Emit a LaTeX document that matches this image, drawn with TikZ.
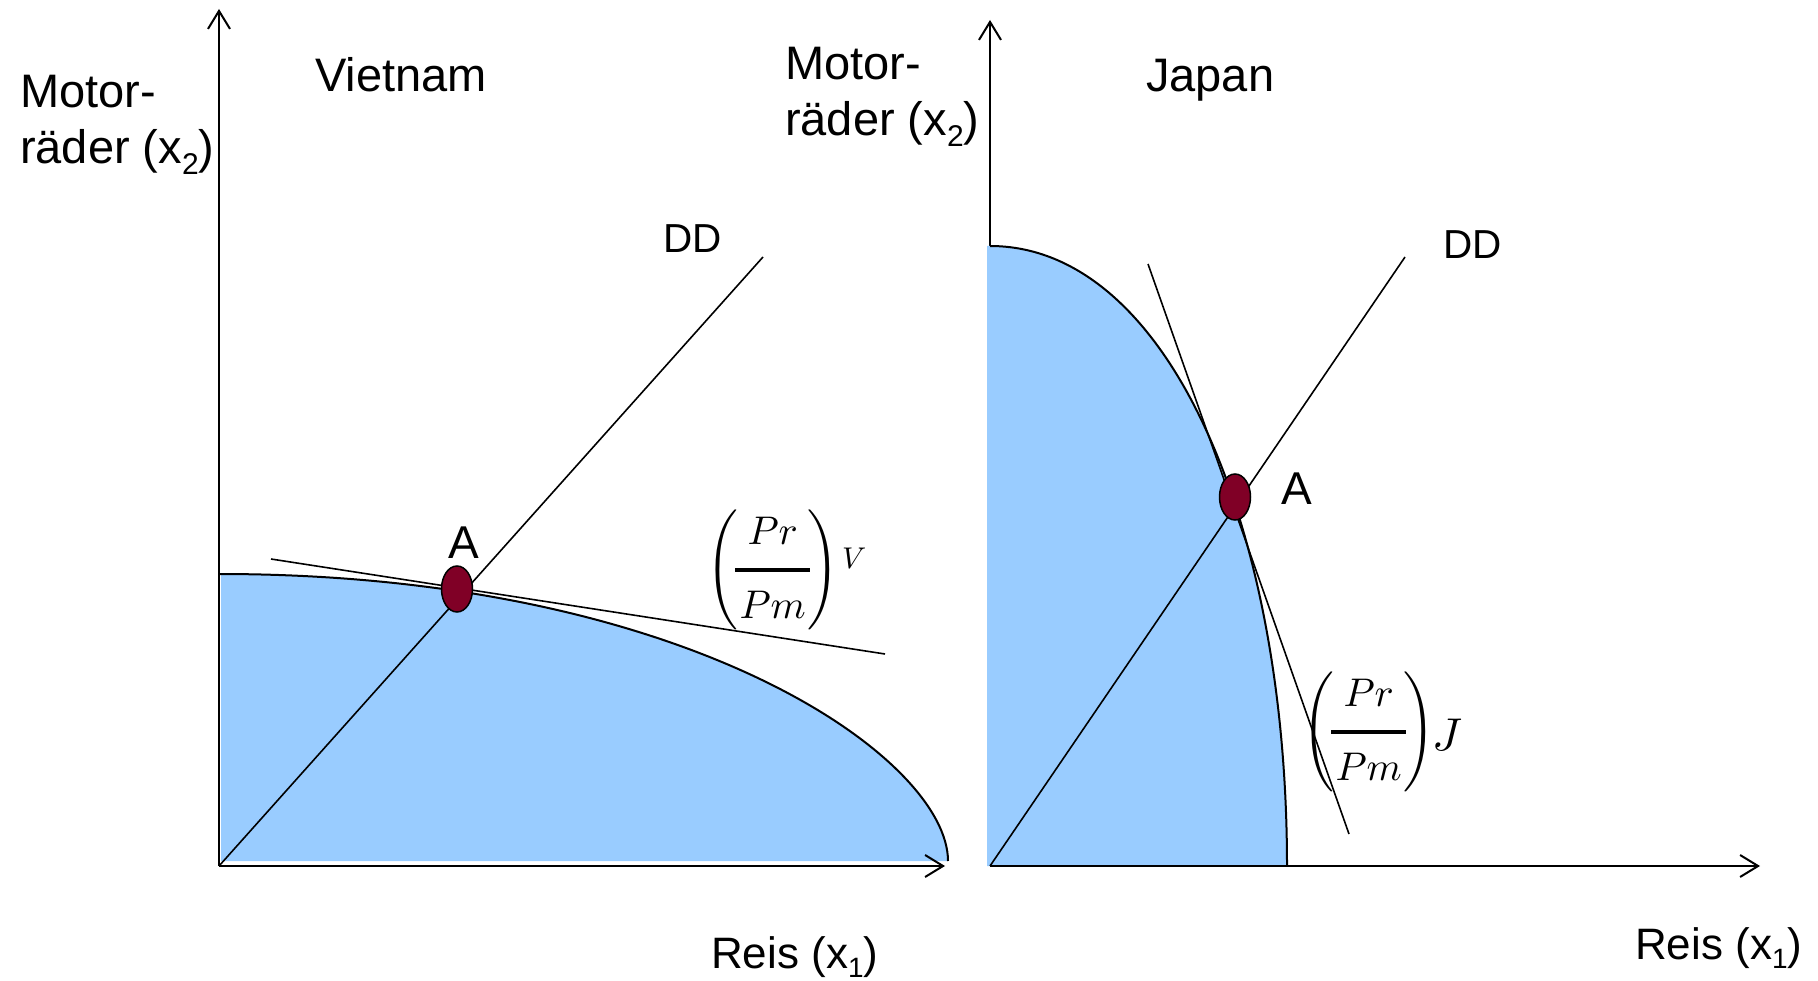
\documentclass[tikz,border=0pt]{standalone}
\usepackage{fontspec}
\setmainfont{Liberation Sans}
\DeclareFontShape{OML}{cmm}{m}{it}{<->cmmi10}{}
\DeclareFontShape{OMS}{cmsy}{m}{n}{<->cmsy10}{}
\DeclareFontShape{OMX}{cmex}{m}{n}{<->cmex10}{}
\usetikzlibrary{arrows.meta,shapes.geometric}
\definecolor{ppfblue}{RGB}{153,204,255}
\definecolor{dotred}{RGB}{128,0,38}
\newcommand{\lowsub}[3]{\raisebox{-#2}{\fontsize{#1}{#1}\selectfont #3}}
\newcommand{\prpmfrac}{\displaystyle\left(\kern-4pt\rule[-40pt]{0pt}{104pt}{\raisebox{8pt}{$Pr$}\above 3.3pt\raisebox{-11pt}{$\mkern2mu Pm\mkern2mu$}}\kern-4pt\right)}
\begin{document}
\begin{tikzpicture}[x=1pt,y=-1pt,
  axis/.style={line width=2.2pt,-{Straight Barb[length=18pt,width=22pt,line width=2pt]}},
  curve/.style={line width=2pt},
  thin line/.style={line width=1.6pt},
  dot/.style={ellipse,draw=black,line width=1.5pt,fill=dotred,minimum width=31pt,minimum height=46pt,inner sep=0pt},
  big text/.style={inner sep=0pt,font=\fontsize{47}{56}\selectfont},
  mid text/.style={inner sep=0pt,font=\fontsize{46}{54}\selectfont},
  small text/.style={inner sep=0pt,font=\fontsize{40.5}{48}\selectfont},
  axis text/.style={inner sep=0pt,font=\fontsize{44}{52}\selectfont},
  math text/.style={inner sep=0pt,font=\fontsize{40}{48}\selectfont}]
\useasboundingbox (0,0) rectangle (1818,981);
% coordinates
\coordinate (oV) at (219,866);
\coordinate (yVt) at (219,9);
\coordinate (xVt) at (945,866);
\coordinate (oJ) at (990,866);
\coordinate (yJt) at (990,20);
\coordinate (xJt) at (1760,866);
\coordinate (ddV) at (763,257);
\coordinate (ddJ) at (1405,257);
\coordinate (tV1) at (271,559);
\coordinate (tV2) at (885,654);
\coordinate (tJ1) at (1148,264);
\coordinate (tJ2) at (1349,834);
\coordinate (cV0) at (219,574);
\coordinate (cV1) at (948,861);
\coordinate (cJ0) at (990,246);
\coordinate (cJ1) at (1287,866);
% right y axis (partly covered by the fill)
\draw[axis] (oJ) -- (yJt);
% fills
\fill[ppfblue] (221,861) -- (221,574) -- (cV0) .. controls (693,574) and (948,760) .. (cV1) -- cycle;
\fill[ppfblue] (987,866) -- (987,246) -- (cJ0) .. controls (1168,246) and (1287,525) .. (cJ1) -- cycle;
% axes
\draw[axis] (oV) -- (yVt);
\draw[axis] (oV) -- (xVt);
\draw[axis] (oJ) -- (xJt);
% production possibility curves
\draw[curve] (cV0) .. controls (693,574) and (948,760) .. (cV1);
\draw[curve] (cJ0) .. controls (1168,246) and (1287,525) .. (cJ1);
% demand lines and price lines
\draw[thin line] (oV) -- (ddV);
\draw[thin line] (oJ) -- (ddJ);
\draw[thin line] (tV1) -- (tV2);
\draw[thin line] (tJ1) -- (tJ2);
% points
\node[dot] (AV) at (457,589) {};
\node[dot] (AJ) at (1235,497) {};
% labels
\node[big text,anchor=base west] (yVlab) at (20,108) {\vtop{\hbox{Motor-}\hbox{räder (x\lowsub{30pt}{11pt}{2})}}};
\node[big text,anchor=base west] (yJlab) at (785,80) {\vtop{\hbox{Motor-}\hbox{räder (x\lowsub{30pt}{11pt}{2})}}};
\node[big text,anchor=base west] (vn) at (315,92) {Vietnam};
\node[big text,anchor=base west] (jp) at (1146,92) {Japan};
\node[small text,anchor=base west] (ddVlab) at (663,253) {DD};
\node[small text,anchor=base west] (ddJlab) at (1443,259) {DD};
\node[mid text,anchor=base west] (AVlab) at (448,558) {A};
\node[mid text,anchor=base west] (AJlab) at (1281,504) {A};
\node[axis text,anchor=base west] (xVlab) at (711,968) {Reis (x\lowsub{28pt}{9pt}{1})};
\node[axis text,anchor=base west] (xJlab) at (1635,959) {Reis (x\lowsub{28pt}{9pt}{1})};
\node[math text,anchor=base west] (pV) at (706,580) {$\prpmfrac$\hspace{3pt}\raisebox{12pt}{\fontsize{30}{30}\selectfont$V$}};
\node[math text,anchor=base west] (pJ) at (1302,742) {$\prpmfrac$\hspace{-3pt}\raisebox{-8pt}{\fontsize{46}{46}\selectfont$J$}};
\end{tikzpicture}
\end{document}
